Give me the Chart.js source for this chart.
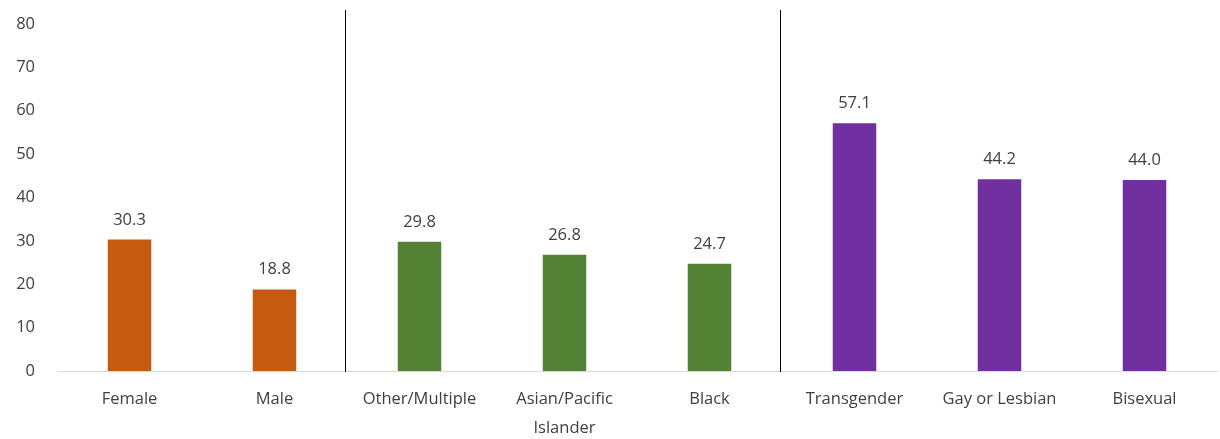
<!DOCTYPE html>
<html lang="en">
<head>
    <meta charset="UTF-8">
    <title>Bar chart by group</title>
    <script src="https://cdn.jsdelivr.net/npm/chart.js"></script>
    <style>
        body {
            margin: 0;
            padding: 0;
            background-color: #ffffff;
        }

        .chart-box {
            width: 1220px;
            height: 439px;
        }
    </style>
</head>
<body>

    <div class="chart-box">
        <canvas id="groupChart"></canvas>
    </div>

    <script>
        // Data
        const categories = ['Female', 'Male', 'Other/Multiple', ['Asian/Pacific', 'Islander'], 'Black', 'Transgender', 'Gay or Lesbian', 'Bisexual'];
        const values = [30.3, 18.8, 29.8, 26.8, 24.7, 57.1, 44.2, 44.0];
        const barColors = ['#c55a11', '#c55a11', '#548235', '#548235', '#548235', '#7030a0', '#7030a0', '#7030a0'];
        const yTicks = [0, 10, 20, 30, 40, 50, 60, 70, 80];
        // group separators sit after these category indexes
        const separatorsAfter = [1, 4];

        const fontFamily = '"Open Sans", "Noto Sans", Arial, sans-serif';

        // value labels above each bar
        const valueLabels = {
            id: 'valueLabels',
            afterDatasetsDraw(chart) {
                const ctx = chart.ctx;
                const meta = chart.getDatasetMeta(0);
                ctx.save();
                ctx.font = '16.5px ' + fontFamily;
                ctx.fillStyle = '#404040';
                ctx.textAlign = 'center';
                ctx.textBaseline = 'alphabetic';
                meta.data.forEach((bar, i) => {
                    ctx.fillText(values[i].toFixed(1), bar.x, bar.y - 15);
                });
                ctx.restore();
            }
        };

        // vertical lines between groups
        const groupLines = {
            id: 'groupLines',
            afterDraw(chart) {
                const ctx = chart.ctx;
                const x = chart.scales.x;
                ctx.save();
                ctx.strokeStyle = '#000000';
                ctx.lineWidth = 1;
                separatorsAfter.forEach(i => {
                    const px = Math.round((x.getPixelForValue(i) + x.getPixelForValue(i + 1)) / 2) - 1.5;
                    ctx.beginPath();
                    ctx.moveTo(px, 10);
                    ctx.lineTo(px, chart.chartArea.bottom + 1);
                    ctx.stroke();
                });
                ctx.restore();
            }
        };

        window.onload = function() {
            new Chart(document.getElementById('groupChart'), {
                type: 'bar',
                data: {
                    labels: categories,
                    datasets: [{
                        data: values,
                        backgroundColor: barColors,
                        barPercentage: 0.6,
                        categoryPercentage: 0.5
                    }]
                },
                options: {
                    responsive: true,
                    maintainAspectRatio: false,
                    animation: false,
                    layout: {
                        padding: { top: 12, right: 3, bottom: 0, left: 0 }
                    },
                    plugins: {
                        legend: { display: false },
                        tooltip: { enabled: false }
                    },
                    scales: {
                        x: {
                            afterFit: s => { s.height = 68; },
                            grid: { display: false },
                            border: { display: true, color: '#d9d9d9', width: 1 },
                            ticks: {
                                color: '#404040',
                                padding: 6,
                                maxRotation: 0,
                                autoSkip: false,
                                font: { family: fontFamily, size: 16.5, lineHeight: 1.75 }
                            }
                        },
                        y: {
                            min: 0,
                            max: 80,
                            afterFit: s => { s.width = 57; },
                            afterBuildTicks: s => { s.ticks = yTicks.map(v => ({ value: v })); },
                            grid: { display: false },
                            border: { display: false },
                            ticks: {
                                color: '#404040',
                                padding: 14,
                                font: { family: fontFamily, size: 16.5 }
                            }
                        }
                    }
                },
                plugins: [valueLabels, groupLines]
            });
        };
    </script>
</body>
</html>
